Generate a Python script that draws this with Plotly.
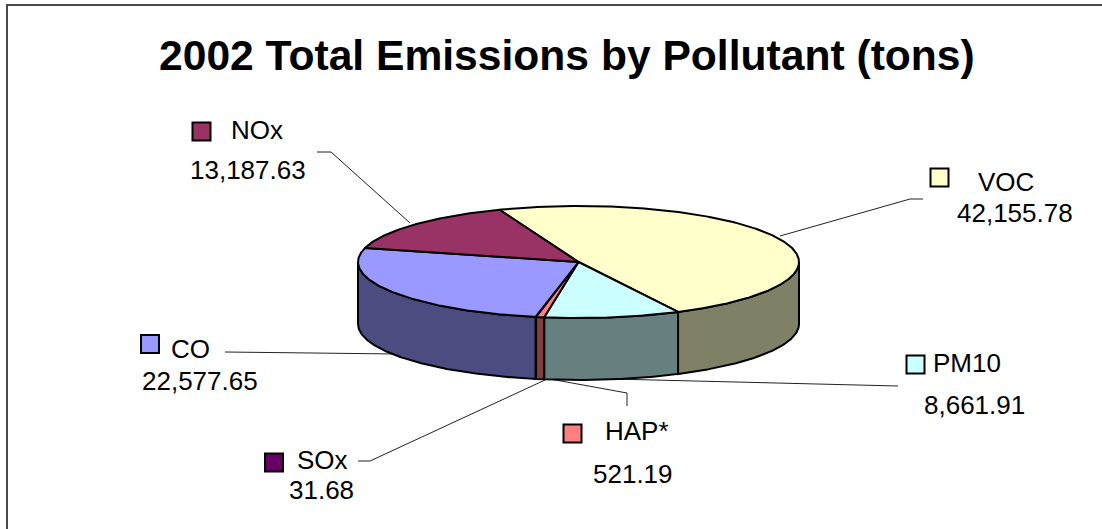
import numpy as np
import plotly.graph_objects as go

# ---------------- data ----------------
pollutants = ["VOC", "PM10", "HAP*", "SOx", "CO", "NOx"]
emissions = [42155.78, 8661.91, 521.19, 31.68, 22577.65, 13187.63]
top_colors = ["#FFFFCC", "#CCFFFF", "#FF8080", "#660066", "#9999FF", "#993366"]
side_colors = ["#808066", "#668080", "#804040", "#330033", "#4C4C80", "#4C1A33"]
title_text = "2002 Total Emissions by Pollutant (tons)"

# ---------------- layout constants (pixel space) ----------------
W, H = 1102, 529
CX, CY, RX, RY, DEPTH = 578.5, 262.0, 220.5, 56.0, 62.0
START_DEG = -21.0          # first slice angle, clockwise from the back
FONT = "Liberation Sans, Arial, sans-serif"

# label placement: legend-key centre, name anchor (left, middle), value anchor
key_pos = {"VOC": (939.5, 177.5), "PM10": (915.5, 364.5), "HAP*": (572.5, 433.5),
           "SOx": (274, 462.5), "CO": (150, 344), "NOx": (201.5, 131.5)}
name_pos = {"VOC": (976, 182), "PM10": (931, 363), "HAP*": (603, 431),
            "SOx": (295, 460), "CO": (169, 349), "NOx": (229, 130)}
value_pos = {"VOC": (955, 213), "PM10": (922, 405), "HAP*": (591, 474),
             "SOx": (287, 490), "CO": (140, 381), "NOx": (188, 170)}
leaders = {"VOC": [(923, 199), (910, 199), (780, 236)],
           "PM10": [(898, 386), (613, 379)],
           "HAP*": [(627, 406), (627, 393), (550, 379)],
           "SOx": [(358, 461), (370, 461), (545, 380)],
           "CO": [(225, 352), (397, 354)],
           "NOx": [(317, 152), (331, 152), (410, 223)]}


def ell(theta_deg, dy=0.0):
    t = np.radians(theta_deg)
    return CX + RX * np.sin(t), CY - RY * np.cos(t) + dy


def arc(a0, a1, dy=0.0):
    n = max(2, int(abs(a1 - a0) * 2) + 2)
    th = np.linspace(a0, a1, n)
    return ell(th, dy)


total = float(np.sum(emissions))
spans = [v / total * 360.0 for v in emissions]
bounds = START_DEG + np.concatenate([[0.0], np.cumsum(spans)])

fig = go.Figure()

# leader lines
lx, ly = [], []
for p in pollutants:
    for (x, y) in leaders[p]:
        lx.append(x)
        ly.append(y)
    lx.append(None)
    ly.append(None)
fig.add_trace(go.Scatter(x=lx, y=ly, mode="lines", line=dict(color="#222222", width=1),
                         hoverinfo="skip"))

# side faces (front half only: 90..270 deg)
for i, p in enumerate(pollutants):
    lo, hi = max(bounds[i], 90.0), min(bounds[i + 1], 270.0)
    if hi <= lo:
        continue
    xt, yt = arc(lo, hi)
    xb, yb = arc(hi, lo, DEPTH)
    xs = np.concatenate([xt, xb, xt[:1]])
    ys = np.concatenate([yt, yb, yt[:1]])
    fig.add_trace(go.Scatter(x=xs, y=ys, mode="lines", fill="toself",
                             fillcolor=side_colors[i], line=dict(color="black", width=2),
                             name=p, hoverinfo="name"))

# top faces
for i, p in enumerate(pollutants):
    xa, ya = arc(bounds[i], bounds[i + 1])
    xs = np.concatenate([[CX], xa, [CX]])
    ys = np.concatenate([[CY], ya, [CY]])
    fig.add_trace(go.Scatter(x=xs, y=ys, mode="lines", fill="toself",
                             fillcolor=top_colors[i], line=dict(color="black", width=2),
                             name=p, text=f"{p}: {emissions[i]:,.2f}", hoverinfo="text"))

# legend keys
fig.add_trace(go.Scatter(x=[key_pos[p][0] for p in pollutants],
                         y=[key_pos[p][1] for p in pollutants],
                         mode="markers",
                         marker=dict(symbol="square", size=18, color=top_colors,
                                     line=dict(color="black", width=2)),
                         hoverinfo="skip"))

annotations = []
for i, p in enumerate(pollutants):
    annotations.append(dict(x=name_pos[p][0], y=name_pos[p][1], text=p, showarrow=False,
                            xanchor="left", yanchor="middle", xref="x", yref="y",
                            font=dict(family=FONT, size=26, color="black")))
    annotations.append(dict(x=value_pos[p][0], y=value_pos[p][1], text=f"{emissions[i]:,.2f}",
                            showarrow=False, xanchor="left", yanchor="middle",
                            xref="x", yref="y",
                            font=dict(family=FONT, size=26, color="black")))
annotations.append(dict(x=567, y=55, text=f"<b>{title_text}</b>", showarrow=False,
                        xanchor="center", yanchor="middle", xref="x", yref="y",
                        font=dict(family=FONT, size=42.6, color="black")))

fig.update_layout(
    width=W, height=H,
    margin=dict(l=0, r=0, t=0, b=0),
    paper_bgcolor="white", plot_bgcolor="white",
    showlegend=False,
    xaxis=dict(range=[0, W], visible=False, fixedrange=True),
    yaxis=dict(range=[H, 0], visible=False, fixedrange=True),
    annotations=annotations,
    shapes=[dict(type="rect", xref="x", yref="y", x0=7, y0=5, x1=W + 20, y1=H + 20,
                 line=dict(color="#4a4a4a", width=2), fillcolor="rgba(0,0,0,0)",
                 layer="below")],
)

fig.write_html("out.html")
